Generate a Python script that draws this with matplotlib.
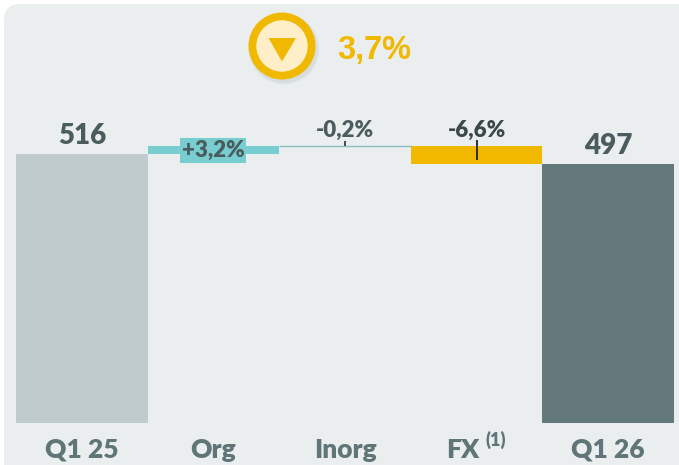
import matplotlib as mpl
mpl.rcParams.update({'font.family': ['Lato', 'DejaVu Sans'], 'font.weight': 'heavy'})
from matplotlib import pyplot as plt
from matplotlib.patches import Circle, FancyBboxPatch, Polygon
from matplotlib.transforms import ScaledTranslation

categories = ['Q1 25', 'Org', 'Inorg', 'FX', 'Q1 26']
bottoms = [0, 516, 531, 497, 0]
heights = [516, 16, 1, 34, 497]
bar_labels = ['516', '+3,2%', '-0,2%', '-6,6%', '497']
change_label = '3,7%'
footnote = '(1)'

PANEL = '#EAEEEF'
LIGHT = '#BFCBCC'
DARK = '#62787A'
TEAL = '#78CDD1'
GOLD = '#F0B900'
PALE = '#FEEFC9'
TEXT = '#4A5C5E'

colors = [LIGHT, TEAL, TEAL, GOLD, DARK]

W, H = 679, 465
fig = plt.figure(figsize=(W/100, H/100), dpi=100, facecolor='white')

# overlay in pixels for the panel and the badge
bg = fig.add_axes([0, 0, 1, 1], zorder=0)
bg.set_xlim(0, W)
bg.set_ylim(H, 0)
bg.axis('off')
bg.add_patch(FancyBboxPatch((4, 4), W + 40, H + 40, boxstyle='round,pad=0,rounding_size=16',
                            fc=PANEL, ec='none'))

# soft shadow under the badge
for r, a in [(36, 0.03), (35, 0.04), (34.5, 0.05), (34, 0.06)]:
    bg.add_patch(Circle((284, 49), r, fc='#8A9A9C', ec='none', alpha=a))
bg.add_patch(Circle((282, 46), 33.5, fc=GOLD, ec='none'))
bg.add_patch(Circle((282, 46), 25.7, fc=PALE, ec='none'))
bg.add_patch(Polygon([(268.5, 38), (296, 38), (282, 61.5)], closed=True, fc=GOLD, ec='none'))
bg.text(374, 50, change_label, color=GOLD, fontsize=23.5, family='Liberation Sans',
        weight='bold', ha='center', va='center')

ax = fig.add_axes([16/W, (H - 423)/H, 658/W, 419/H], zorder=1)
ax.patch.set_alpha(0)
xs = list(range(len(categories)))
ax.bar(xs, heights, width=1.0, bottom=bottoms, color=colors, linewidth=0)
ax.set_xlim(-0.5, 4.5)
ax.set_ylim(0, 419/0.5213)
ax.set_yticks([])
ax.set_xticks(xs)
ax.set_xticklabels(categories, fontsize=19, color='#5F7577')
ax.tick_params(axis='x', length=0, pad=10.5)
for s in ax.spines.values():
    s.set_visible(False)

# FX label is pushed left to make room for the footnote marker
fx_label = ax.get_xticklabels()[3]
fx_label.set_transform(fx_label.get_transform() + ScaledTranslation(-14/100, 0, fig.dpi_scale_trans))

# inorg bar is under a pixel tall, keep it visible as a hairline
ax.hlines(bottoms[2] + heights[2], xs[2] - 0.5, xs[2] + 0.5, color='#8CBFC2', lw=1.0)

# totals
for i in [0, 4]:
    ax.annotate(bar_labels[i], (xs[i], bottoms[i] + heights[i]), xytext=(0, 3.5),
                textcoords='offset points', ha='center', va='bottom',
                fontsize=20, color=TEXT)

# org label sits on its bar in a teal box
ax.annotate(bar_labels[1], (xs[1], bottoms[1] + heights[1]/2), xytext=(0, -0.5),
            textcoords='offset points', ha='center', va='center', fontsize=16, color=TEXT,
            bbox=dict(fc=TEAL, ec='none', boxstyle='square,pad=0.07'))

# the small ticks above inorg / fx
ax.vlines(xs[2], 532, 541, color='#333f40', lw=1.3)
ax.vlines(xs[3], 505, 542, color='#222222', lw=1.3)
ax.annotate(bar_labels[2], (xs[2], 531), xytext=(0, 4), textcoords='offset points',
            ha='center', va='bottom', fontsize=16, color=TEXT)
ax.annotate(bar_labels[3], (xs[3], 531), xytext=(0, 4), textcoords='offset points',
            ha='center', va='bottom', fontsize=16, color='#3A4849')

# footnote marker next to FX
ax.annotate(footnote, (xs[3], 0), xytext=(14, -12), textcoords='offset points',
            ha='center', va='center', fontsize=13, color='#5F7577', annotation_clip=False)

fig.savefig('out.png', dpi=100, facecolor='white')
